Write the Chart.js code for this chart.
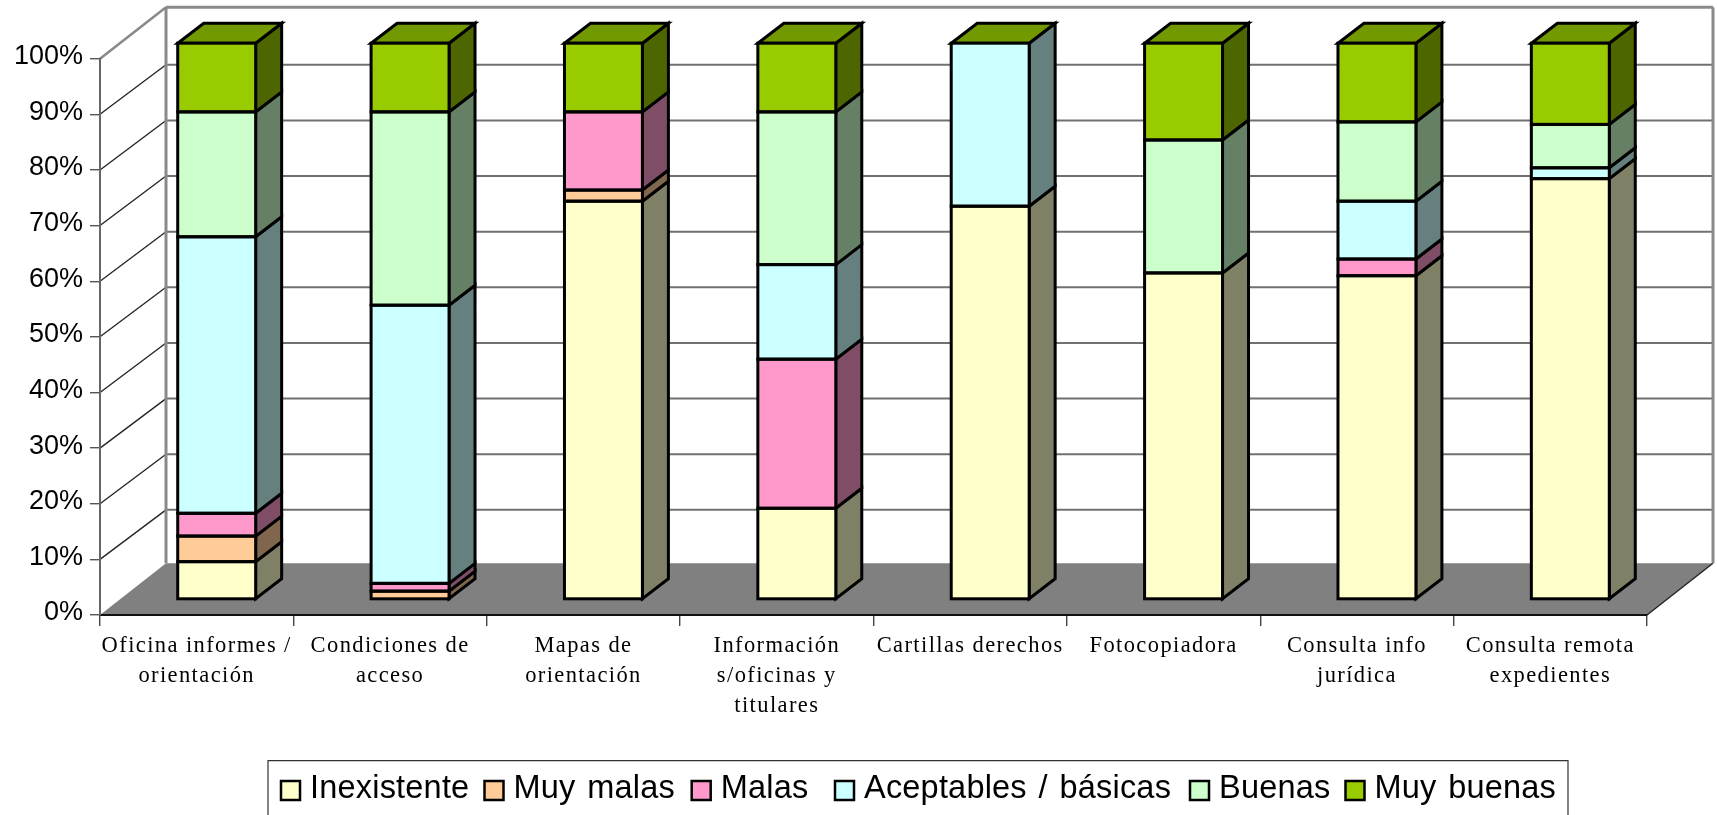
<!DOCTYPE html>
<html>
<head>
<meta charset="utf-8">
<style>html,body{margin:0;padding:0;background:#fff;overflow:hidden}canvas{display:block}</style>
<script src="https://cdn.jsdelivr.net/npm/chart.js@4/dist/chart.umd.min.js"></script>
</head>
<body>
<canvas id="c" width="1717" height="815"></canvas>
<script>
const categories = [
  ["Oficina informes /", "orientación"],
  ["Condiciones de", "acceso"],
  ["Mapas de", "orientación"],
  ["Información", "s/oficinas y", "titulares"],
  "Cartillas derechos",
  "Fotocopiadora",
  ["Consulta info", "jurídica"],
  ["Consulta remota", "expedientes"]
];
const inexistente = [6.8, 0, 71.6, 16.4, 70.7, 58.7, 58.2, 75.65];
const muyMalas    = [4.6, 1.5, 2.0, 0, 0, 0, 0, 0];
const malas       = [4.1, 1.4, 14.05, 26.8, 0, 0, 3.0, 0];
const aceptables  = [49.7, 50.0, 0, 17.0, 29.3, 0, 10.4, 1.95];
const buenas      = [22.45, 34.75, 0, 27.45, 0, 23.9, 14.25, 7.8];
const muyBuenas   = [12.35, 12.35, 12.35, 12.35, 0, 17.4, 14.15, 14.6];
const seriesNames = ["Inexistente", "Muy malas", "Malas", "Aceptables / básicas", "Buenas", "Muy buenas"];
const seriesColors = ["#FFFFCC", "#FFCC99", "#FF99CC", "#CCFFFF", "#CCFFCC", "#99CC00"];
const sideColors = ["#808066", "#80664D", "#804D66", "#668080", "#668066", "#4D6600"];
const capColor = "#739900";
const seriesValues = [inexistente, muyMalas, malas, aceptables, buenas, muyBuenas];

// projection of the 3D look
const WALL = {dx: 66, dy: 49.5, frameTop: 7.3, floorBack: 563.3};
const BAR = {shiftX: 20, shiftY: 15.5, depthX: 26, depthY: 20, line: 3};
const LEGEND = {left: 268, right: 1568, top: 760.7, markerX: [281, 484.5, 691.7, 835, 1190, 1345.5], marker: 19, markerTop: 781, gap: 29, baseline: 798.3, size: 32.5};

function line(ctx, x1, y1, x2, y2, color, w) {
  ctx.strokeStyle = color; ctx.lineWidth = w;
  ctx.beginPath(); ctx.moveTo(x1, y1); ctx.lineTo(x2, y2); ctx.stroke();
}

const threeD = {
  id: "threeD",
  beforeDraw(chart) {
    const {ctx, chartArea: a, scales: {x, y}} = chart;
    if (!x._wrapped) {
      x._wrapped = true;
      const xd = x.drawLabels, yd = y.drawLabels;
      x.drawLabels = function (b) { ctx.save(); ctx.letterSpacing = "1.4px"; xd.call(this, b); ctx.restore(); };
      y.drawLabels = function (b) { ctx.save(); ctx.translate(0, -2); yd.call(this, b); ctx.restore(); };
    }
    ctx.save();
    const L = a.left, R = a.right, B = a.bottom, T = a.top;
    const bx = L + WALL.dx, brx = R + WALL.dx;
    // floor
    ctx.fillStyle = "#808080";
    ctx.beginPath(); ctx.moveTo(L, B); ctx.lineTo(bx, WALL.floorBack); ctx.lineTo(brx, WALL.floorBack); ctx.lineTo(R, B); ctx.closePath(); ctx.fill();
    line(ctx, R, B, brx, WALL.floorBack, "#222", 1.4);
    // grid on back wall and left wall
    y.ticks.forEach(t => {
      if (t.value === 0 || t.value === 100) return;
      const py = y.getPixelForValue(t.value);
      line(ctx, bx, py - WALL.dy, brx, py - WALL.dy, "#707070", 2);
      line(ctx, L, py, bx, py - WALL.dy, "#222", 1.3);
    });
    // frame
    line(ctx, L, T, bx, WALL.frameTop, "#8a8a8a", 2.6);
    line(ctx, bx, WALL.frameTop, bx, WALL.floorBack, "#8a8a8a", 3);
    line(ctx, bx, WALL.frameTop, brx, WALL.frameTop, "#8a8a8a", 3);
    line(ctx, brx, WALL.frameTop, brx, WALL.floorBack, "#8a8a8a", 3);
    ctx.restore();
  },
  beforeDatasetsDraw(chart) {
    const {ctx} = chart;
    ctx.save();
    ctx.translate(BAR.shiftX, -BAR.shiftY);
    ctx.lineJoin = "miter";
    ctx.strokeStyle = "#000"; ctx.lineWidth = BAR.line;
    const n = chart.data.datasets.length;
    chart.data.labels.forEach((_, i) => {
      for (let d = 0; d < n; d++) {
        if (!chart.data.datasets[d].data[i]) continue;
        const e = chart.getDatasetMeta(d).data[i];
        const r = e.x + e.width / 2;
        ctx.fillStyle = sideColors[d];
        ctx.beginPath();
        ctx.moveTo(r, e.y); ctx.lineTo(r + BAR.depthX, e.y - BAR.depthY);
        ctx.lineTo(r + BAR.depthX, e.base - BAR.depthY); ctx.lineTo(r, e.base); ctx.closePath();
        ctx.fill(); ctx.stroke();
      }
      const t = chart.getDatasetMeta(n - 1).data[i];
      const l = t.x - t.width / 2, r = t.x + t.width / 2;
      ctx.fillStyle = capColor;
      ctx.beginPath();
      ctx.moveTo(l, t.y); ctx.lineTo(l + BAR.depthX, t.y - BAR.depthY);
      ctx.lineTo(r + BAR.depthX, t.y - BAR.depthY); ctx.lineTo(r, t.y); ctx.closePath();
      ctx.fill(); ctx.stroke();
    });
  },
  afterDatasetsDraw(chart) {
    const {ctx} = chart;
    ctx.strokeStyle = "#000"; ctx.lineWidth = BAR.line;
    chart.data.datasets.forEach((ds, d) => {
      chart.getDatasetMeta(d).data.forEach((e, i) => {
        if (!ds.data[i]) return;
        ctx.strokeRect(e.x - e.width / 2, e.y, e.width, e.base - e.y);
      });
    });
    ctx.restore();
  },
  afterDraw(chart) {
    const {ctx} = chart;
    ctx.save();
    // boxed legend
    ctx.strokeStyle = "#333"; ctx.lineWidth = 1.2;
    ctx.beginPath();
    ctx.moveTo(LEGEND.left, 820); ctx.lineTo(LEGEND.left, LEGEND.top);
    ctx.lineTo(LEGEND.right, LEGEND.top); ctx.lineTo(LEGEND.right, 820);
    ctx.stroke();
    ctx.font = LEGEND.size + 'px "Liberation Sans"';
    ctx.letterSpacing = "0.2px";
    ctx.wordSpacing = "2.5px";
    ctx.textBaseline = "alphabetic"; ctx.textAlign = "left";
    chart.data.datasets.forEach((ds, i) => {
      const mx = LEGEND.markerX[i];
      ctx.fillStyle = ds.backgroundColor;
      ctx.fillRect(mx, LEGEND.markerTop, LEGEND.marker, LEGEND.marker);
      ctx.strokeStyle = "#000"; ctx.lineWidth = 2.5;
      ctx.strokeRect(mx, LEGEND.markerTop, LEGEND.marker, LEGEND.marker);
      ctx.fillStyle = "#000";
      ctx.fillText(ds.label, mx + LEGEND.gap, LEGEND.baseline);
    });
    ctx.restore();
  }
};

new Chart(document.getElementById("c"), {
  type: "bar",
  data: {
    labels: categories,
    datasets: seriesNames.map((name, i) => ({
      label: name,
      data: seriesValues[i],
      backgroundColor: seriesColors[i],
      borderWidth: 0,
      clip: false,
      barPercentage: 0.403,
      categoryPercentage: 1
    }))
  },
  plugins: [threeD],
  options: {
    responsive: false,
    animation: false,
    layout: {padding: {left: 0, right: 70, top: 58.7, bottom: 0}},
    plugins: {legend: {display: false}, tooltip: {enabled: false}, title: {display: false}},
    scales: {
      x: {
        stacked: true,
        afterFit(s) { s.height = 200; },
        grid: {drawOnChartArea: false, drawTicks: true, tickLength: 11, color: "#444", lineWidth: 1.4},
        border: {display: true, color: "#111", width: 2},
        ticks: {
          autoSkip: false, maxRotation: 0, minRotation: 0, padding: 5, color: "#000",
          font: {family: '"Liberation Serif"', size: 22.5, lineHeight: 1.33}
        }
      },
      y: {
        stacked: true, min: 0, max: 100,
        afterFit(s) { s.width = 100; },
        grid: {drawOnChartArea: false, drawTicks: true, tickLength: 10, color: "#555", lineWidth: 1.4},
        border: {display: true, color: "#666", width: 2},
        ticks: {
          stepSize: 10, padding: 7, color: "#000",
          font: {family: '"Liberation Sans"', size: 27},
          callback: v => v + "%"
        }
      }
    }
  }
});
</script>
</body>
</html>
